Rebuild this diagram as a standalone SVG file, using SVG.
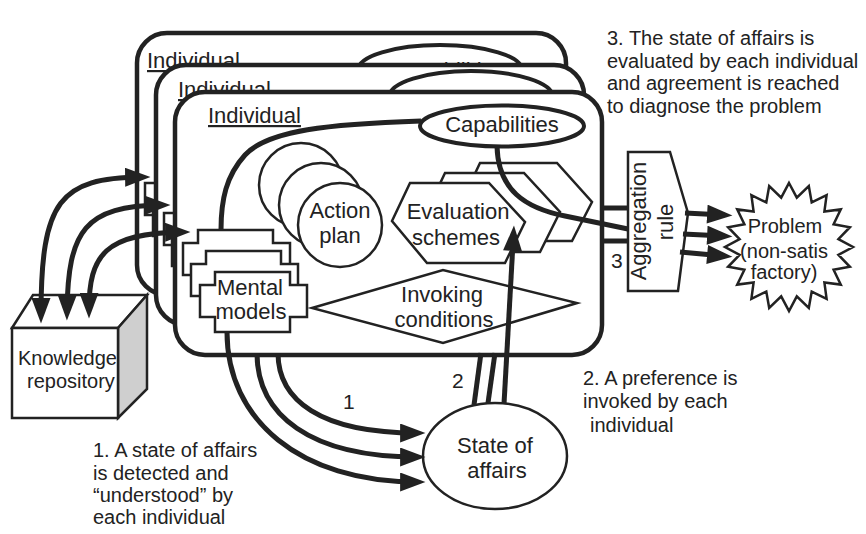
<svg xmlns="http://www.w3.org/2000/svg" xmlns:xlink="http://www.w3.org/1999/xlink" width="866" height="534" viewBox="0 0 866 534">
  <style>
    .pan { fill: #fff; stroke: #222; stroke-width: 4.5; }
    .thin { fill: #fff; stroke: #222; stroke-width: 2.5; }
    .oval { fill: #fff; stroke: #222; stroke-width: 4; }
    .wire { fill: none; stroke: #222; stroke-width: 5; }
    text { font-family: "Liberation Sans", Arial, Helvetica, sans-serif; fill: #222; }
    .lbl { font-size: 22px; text-anchor: middle; }
    .ind { font-size: 22px; text-decoration: underline; }
    .note { font-size: 20px; }
    .num { font-size: 21px; }
  </style>
  <defs>
    <!-- stepped card used for the mental-models stack -->
    <path id="mm" d="M15,0 H90 V13 H107 V45 H90 V60 H15 V45 H0 V13 H15 Z"/>
    <marker id="ah" markerUnits="userSpaceOnUse" viewBox="0 0 24 18" markerWidth="26" markerHeight="19" refX="16" refY="9" orient="auto-start-reverse">
      <path d="M0,0 L24,9 L0,18 Z" fill="#222"/>
    </marker>
  </defs>

  <rect width="866" height="534" fill="#fff"/>

  <!-- back individual -->
  <g id="individual-1">
    <rect class="pan" x="137" y="33" width="429" height="262" rx="30"/>
    <text class="ind" x="147" y="68">Individual</text>
    <ellipse class="oval" cx="440" cy="70" rx="82" ry="25"/>
    <text class="lbl" x="448" y="78">Capabilities</text>
    <use href="#mm" x="145" y="170" class="thin"/>
    <use href="#mm" x="153" y="191" class="thin"/>
    <use href="#mm" x="162" y="212" class="thin"/>
  </g>

  <!-- middle individual -->
  <g id="individual-2">
    <rect class="pan" x="156" y="65" width="428" height="260" rx="30"/>
    <text class="ind" x="178" y="97">Individual</text>
    <ellipse class="oval" cx="471" cy="97" rx="82" ry="26"/>
    <text class="lbl" x="478" y="106">Capabilities</text>
    <use href="#mm" x="164" y="200" class="thin"/>
    <use href="#mm" x="172" y="221" class="thin"/>
    <use href="#mm" x="181" y="242" class="thin"/>
  </g>

  <!-- front individual -->
  <g id="individual-3">
    <rect class="pan" x="175" y="92" width="427" height="263" rx="30"/>
    <text class="ind" x="208" y="123">Individual</text>
  </g>

  <g id="action-plan">
    <circle class="thin" cx="301" cy="185" r="42"/>
    <circle class="thin" cx="321" cy="205" r="42"/>
    <circle class="thin" cx="340" cy="225" r="42"/>
    <text class="lbl" x="340" y="218">Action</text>
    <text class="lbl" x="340" y="243">plan</text>
  </g>

  <g id="evaluation-schemes">
    <polygon class="thin" points="462,201 480,163 557,163 592,202 572,241 497,241"/>
    <polygon class="thin" points="427,211 445,173 524,173 560,212 540,252 462,252"/>
    <polygon class="thin" points="392,221 410,183 489,183 525,222 505,263 427,263"/>
    <text class="lbl" x="458" y="219">Evaluation</text>
    <text class="lbl" x="456" y="245">schemes</text>
  </g>

  <g id="mental-models">
    <use href="#mm" x="183" y="230" class="thin"/>
    <use href="#mm" x="191" y="251" class="thin"/>
    <use href="#mm" x="200" y="272" class="thin"/>
    <text class="lbl" x="250" y="295">Mental</text>
    <text class="lbl" x="251" y="319">models</text>
  </g>

  <g id="invoking-conditions">
    <polygon class="thin" points="312,308 443,270 577,303 443,343"/>
    <text class="lbl" x="442" y="302">Invoking</text>
    <text class="lbl" x="444" y="327">conditions</text>
  </g>

  <g id="capabilities">
    <ellipse class="oval" cx="502" cy="126" rx="82" ry="20.5"/>
    <text class="lbl" x="502" y="132">Capabilities</text>
  </g>

  <g id="knowledge-repository">
    <polygon class="thin" points="12,328 33,295 147,295 118,328"/>
    <polygon points="118,328 147,295 147,389 118,418" fill="#cfcfcf" stroke="#222" stroke-width="2.5"/>
    <rect class="thin" x="12" y="328" width="106" height="90"/>
    <text class="note" x="18" y="365">Knowledge</text>
    <text class="note" x="27" y="388">repository</text>
  </g>

  <g id="state-of-affairs">
    <ellipse class="thin" cx="495" cy="456" rx="72" ry="53" stroke-width="4.5"/>
    <text class="lbl" x="495" y="453">State of</text>
    <text class="lbl" x="497" y="478">affairs</text>
  </g>

  <g id="aggregation-rule">
    <polygon class="thin" points="628,152 670,152 688,213 678,291 628,291"/>
    <text class="lbl" transform="translate(646,221) rotate(-90)">Aggregation</text>
    <text class="lbl" transform="translate(673,222) rotate(-90)">rule</text>
  </g>

  <g id="problem">
    <polygon class="thin" points="789,183 796.8,197.6 808.8,186.1 811.7,202.4 826.6,195.2 824.4,211.6 840.8,209.4 833.6,224.3 849.9,227.2 838.4,239.2 853,247 838.4,254.8 849.9,266.8 833.6,269.7 840.8,284.6 824.4,282.4 826.6,298.8 811.7,291.6 808.8,307.9 796.8,296.4 789,311 781.2,296.4 769.2,307.9 766.3,291.6 751.4,298.8 753.6,282.4 737.2,284.6 744.4,269.7 728.1,266.8 739.6,254.8 725,247 739.6,239.2 728.1,227.2 744.4,224.3 737.2,209.4 753.6,211.6 751.4,195.2 766.3,202.4 769.2,186.1 781.2,197.6"/>
    <text class="note" x="785" y="233" text-anchor="middle">Problem</text>
    <text class="note" x="784" y="258" text-anchor="middle">(non-satis</text>
    <text class="note" x="784" y="279" text-anchor="middle">factory)</text>
  </g>

  <g id="connectors">
    <!-- capabilities linked to mental models and to the aggregation rule -->
    <path class="wire" d="M421,121 C330,124 268,130 245,155 C226,176 221,200 221,230"/>
    <path class="wire" d="M497,146 C498,190 525,208 565,216 L628,229"/>
    <line class="wire" x1="603" y1="208" x2="628" y2="208"/>
    <line class="wire" x1="603" y1="241" x2="628" y2="241"/>
    <!-- knowledge repository exchanges -->
    <path class="wire" d="M41,315 C41,200 60,178 142,177" marker-start="url(#ah)" marker-end="url(#ah)"/>
    <path class="wire" d="M67,312 C68,230 85,206 162,205" marker-start="url(#ah)" marker-end="url(#ah)"/>
    <path class="wire" d="M89,310 C89,255 105,233 182,232" marker-start="url(#ah)" marker-end="url(#ah)"/>
    <!-- detection of the state of affairs -->
    <path class="wire" d="M227,332 C227,420 300,482 417,482" marker-end="url(#ah)"/>
    <path class="wire" d="M257,353 C257,415 310,457 417,457" marker-end="url(#ah)"/>
    <path class="wire" d="M278,353 C278,400 320,433 417,433" marker-end="url(#ah)"/>
    <!-- preference invoked -->
    <line class="wire" x1="474" y1="405" x2="481" y2="353"/>
    <line class="wire" x1="488" y1="403" x2="495" y2="353"/>
    <line class="wire" x1="504" y1="404" x2="513.5" y2="234" marker-end="url(#ah)"/>
    <!-- aggregated diagnosis -->
    <line class="wire" x1="685" y1="213" x2="724" y2="215" marker-end="url(#ah)"/>
    <line class="wire" x1="683" y1="234" x2="724" y2="236" marker-end="url(#ah)"/>
    <line class="wire" x1="680" y1="252" x2="724" y2="256" marker-end="url(#ah)"/>
    <text class="num" x="343" y="409">1</text>
    <text class="num" x="452" y="388">2</text>
    <text class="num" x="611" y="268">3</text>
  </g>

  <g id="notes">
    <text class="note" x="607" y="45">3. The state of affairs is</text>
    <text class="note" x="607" y="67.5">evaluated by each individual</text>
    <text class="note" x="607" y="90">and agreement is reached</text>
    <text class="note" x="607" y="112.5">to diagnose the problem</text>
    <text class="note" x="583" y="385">2. A preference is</text>
    <text class="note" x="583" y="408">invoked by each</text>
    <text class="note" x="590" y="432">individual</text>
    <text class="note" x="93" y="457">1. A state of affairs</text>
    <text class="note" x="93" y="480">is detected and</text>
    <text class="note" x="93" y="502">“understood” by</text>
    <text class="note" x="93" y="524">each individual</text>
  </g>
</svg>
